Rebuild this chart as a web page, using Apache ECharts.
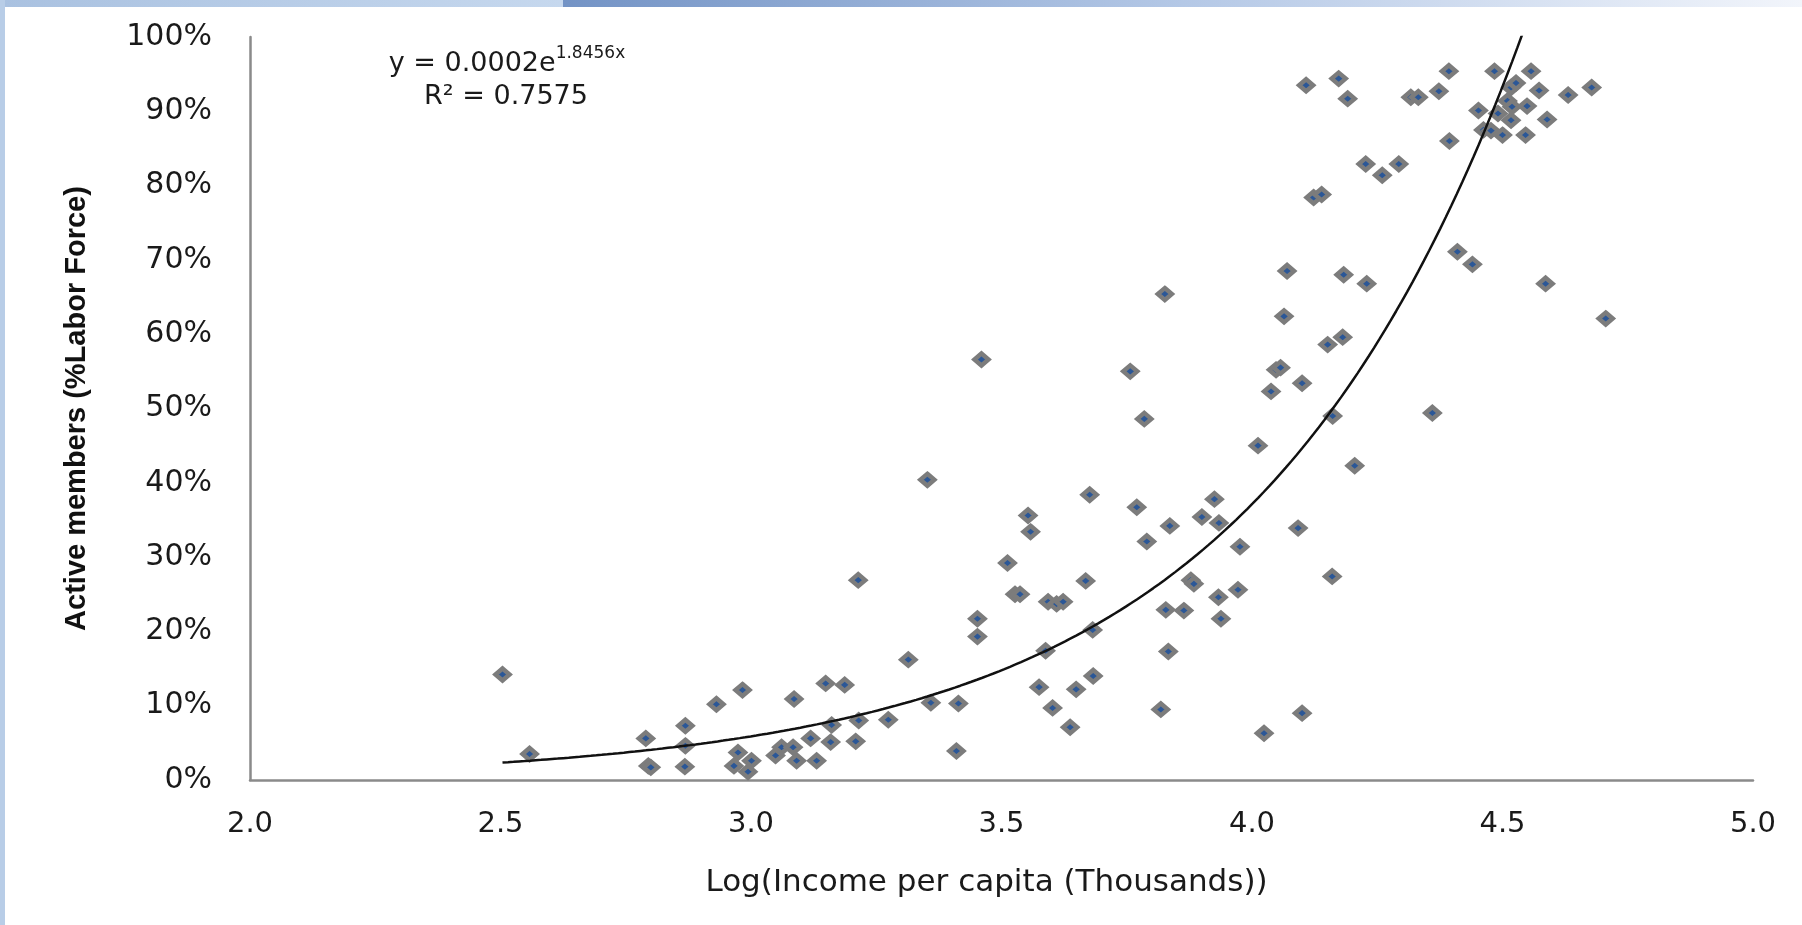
<!DOCTYPE html>
<html>
<head>
<meta charset="utf-8">
<script src="https://cdn.jsdelivr.net/npm/echarts@6/dist/echarts.min.js"></script>
<style>
  html, body { margin: 0; padding: 0; background: #ffffff; }
  #chart { width: 1802px; height: 925px; }
</style>
</head>
<body>
<div id="chart"></div>
<script>
// ---- Data ----
const incomeLog = [
  2.504, 2.558, 2.790, 2.795, 2.800, 2.869, 2.869, 2.868, 2.931, 2.983,
  2.974, 2.966, 2.994, 3.001, 3.049, 3.061, 3.084, 3.086, 3.091, 3.119,
  3.131, 3.149, 3.161, 3.159, 3.187, 3.209, 3.215, 3.214, 3.274, 3.314,
  3.352, 3.359, 3.414, 3.410, 3.452, 3.452, 3.460, 3.512, 3.527, 3.537,
  3.553, 3.558, 3.575, 3.588, 3.593, 3.602, 3.610, 3.623, 3.637, 3.649,
  3.668, 3.676, 3.682, 3.683, 3.757, 3.770, 3.785, 3.790, 3.818, 3.826,
  3.828, 3.833, 3.836, 3.864, 3.878, 3.884, 3.900, 3.925, 3.933, 3.934,
  3.938, 3.972, 3.976, 4.012, 4.024, 4.038, 4.048, 4.057, 4.064, 4.070,
  4.092, 4.100, 4.100, 4.108, 4.123, 4.139, 4.151, 4.160, 4.161, 4.173,
  4.181, 4.183, 4.191, 4.205, 4.227, 4.229, 4.260, 4.293, 4.317, 4.332,
  4.360, 4.373, 4.393, 4.394, 4.410, 4.440, 4.452, 4.462, 4.477, 4.484,
  4.491, 4.500, 4.510, 4.517, 4.517, 4.519, 4.527, 4.546, 4.549, 4.557,
  4.573, 4.586, 4.589, 4.631, 4.678, 4.706
];
const activeShare = [
  14.2, 3.5, 5.6, 1.9, 1.7, 7.3, 4.6, 1.8, 10.2, 12.1,
  3.7, 1.9, 1.1, 2.6, 3.3, 4.4, 4.4, 10.9, 2.6, 5.6,
  2.6, 13.0, 7.4, 5.1, 12.8, 5.2, 8.0, 26.9, 8.1, 16.2,
  40.4, 10.4, 10.3, 3.9, 21.7, 19.3, 56.6, 29.2, 25.0, 25.0,
  35.6, 33.4, 12.5, 17.4, 24.0, 9.7, 23.7, 24.0, 7.1, 12.2,
  26.8, 38.4, 20.2, 14.0, 55.0, 36.7, 48.6, 32.1, 9.5, 65.4,
  22.9, 17.3, 34.2, 22.8, 26.9, 26.4, 35.4, 37.8, 24.6, 34.6,
  21.7, 25.6, 31.4, 45.0, 6.3, 52.3, 55.2, 55.5, 62.4, 68.5,
  33.9, 53.4, 9.0, 93.5, 78.4, 78.8, 58.6, 27.4, 49.0, 94.4,
  59.6, 68.0, 91.7, 42.3, 82.9, 66.8, 81.4, 82.9, 91.9, 91.9,
  49.4, 92.7, 95.4, 86.0, 71.1, 69.4, 90.1, 87.5, 87.4, 95.4,
  89.7, 86.8, 91.4, 93.2, 88.8, 90.6, 93.8, 86.8, 90.7, 95.4,
  92.8, 66.8, 88.9, 92.2, 93.2, 62.1
];
const xTickLabels = ['2.0', '2.5', '3.0', '3.5', '4.0', '4.5', '5.0'];
const xAxisTitle = 'Log(Income per capita (Thousands))';
const yAxisTitle = 'Active members (%Labor Force)';
const equationText = 'y = 0.0002e';
const equationExp = '1.8456x';
const rSquaredText = 'R\u00B2 = 0.7575';

// ---- Build scatter data ----
const points = incomeLog.map((x, i) => [x, activeShare[i]]);

// ---- Exponential trendline fitted from the data (least squares on ln y) ----
const n = points.length;
let sx = 0, sy = 0, sxx = 0, sxy = 0;
points.forEach(([x, y]) => {
  const ly = Math.log(y / 100);
  sx += x; sy += ly; sxx += x * x; sxy += x * ly;
});
const b = (n * sxy - sx * sy) / (n * sxx - sx * sx);
const lnA = (sy - b * sx) / n;
const xMin = Math.min(...incomeLog), xMax = Math.max(...incomeLog);
const trend = [];
const steps = 200;
for (let i = 0; i <= steps; i++) {
  const x = xMin + (xMax - xMin) * i / steps;
  trend.push([x, Math.exp(lnA + b * x) * 100]);
}

const chart = echarts.init(document.getElementById('chart'), null, { renderer: 'canvas' });
const labelFont = "'DejaVu Sans', Verdana, sans-serif";

chart.setOption({
  backgroundColor: '#ffffff',
  animation: false,
  grid: { left: 250, right: 49, top: 37, bottom: 145, containLabel: false },
  xAxis: {
    type: 'value', min: 2, max: 5, interval: 0.5,
    axisLine: { show: true, onZero: false, lineStyle: { color: '#8a8a8a', width: 2.5 } },
    axisTick: { show: false },
    splitLine: { show: false },
    axisLabel: {
      margin: 30, fontSize: 29, color: '#1a1a1a', fontFamily: labelFont,
      formatter: (v) => xTickLabels[Math.round((v - 2) / 0.5)] || v.toFixed(1)
    },
    name: xAxisTitle, nameLocation: 'middle', nameGap: 87,
    nameTextStyle: { fontSize: 31, color: '#1a1a1a', fontFamily: labelFont, padding: [0, 30, 0, 0] }
  },
  yAxis: {
    type: 'value', min: 0, max: 100, interval: 10,
    axisLine: { show: true, lineStyle: { color: '#8a8a8a', width: 2.5 } },
    axisTick: { show: false },
    splitLine: { show: false },
    axisLabel: { margin: 38, fontSize: 30, color: '#1a1a1a', fontFamily: labelFont, formatter: '{value}%' },
    name: yAxisTitle, nameLocation: 'middle', nameRotate: 90, nameGap: 159,
    nameTextStyle: { fontSize: 29, fontWeight: 'bold', color: '#111', fontFamily: "'Liberation Sans', Arial, sans-serif" }
  },
  series: [
    {
      type: 'line', data: trend, showSymbol: false, symbol: 'none', clip: true,
      lineStyle: { color: '#111111', width: 2.5 }, z: 3, silent: true
    },
    {
      type: 'scatter', data: points, symbol: 'diamond', symbolSize: [14, 12],
      itemStyle: { color: '#2b5797', borderColor: '#7c7c7c', borderWidth: 4.5, opacity: 1 },
      z: 2
    }
  ],
  graphic: [
    { type: 'rect', left: 0, top: 0, shape: { width: 563, height: 7 }, silent: true,
      style: { fill: new echarts.graphic.LinearGradient(0, 0, 1, 0, [
        { offset: 0, color: '#a9c1e0' }, { offset: 1, color: '#c6d8ee' }]) } },
    { type: 'rect', left: 563, top: 0, shape: { width: 1239, height: 7 }, silent: true,
      style: { fill: new echarts.graphic.LinearGradient(0, 0, 1, 0, [
        { offset: 0, color: '#7393c5' }, { offset: 0.5, color: '#b4c8e6' }, { offset: 1, color: '#f2f5fb' }]) } },
    { type: 'rect', left: 0, top: 0, shape: { width: 5, height: 925 }, silent: true,
      style: { fill: '#b8cde7' } },
    { type: 'text', x: 507, y: 61, silent: true,
      style: {
        text: '{a|' + equationText + '}{s|' + equationExp + '}',
        align: 'center', verticalAlign: 'middle',
        rich: {
          a: { fontSize: 27, fontFamily: labelFont, fill: '#1a1a1a', lineHeight: 32, verticalAlign: 'bottom' },
          s: { fontSize: 17, fontFamily: labelFont, fill: '#1a1a1a', lineHeight: 32, verticalAlign: 'top' }
        }
      } },
    { type: 'text', x: 506, y: 97, silent: true,
      style: { text: rSquaredText, align: 'center', verticalAlign: 'middle',
        fontSize: 27, fontFamily: labelFont, fill: '#1a1a1a' } }
  ]
});
</script>
</body>
</html>
